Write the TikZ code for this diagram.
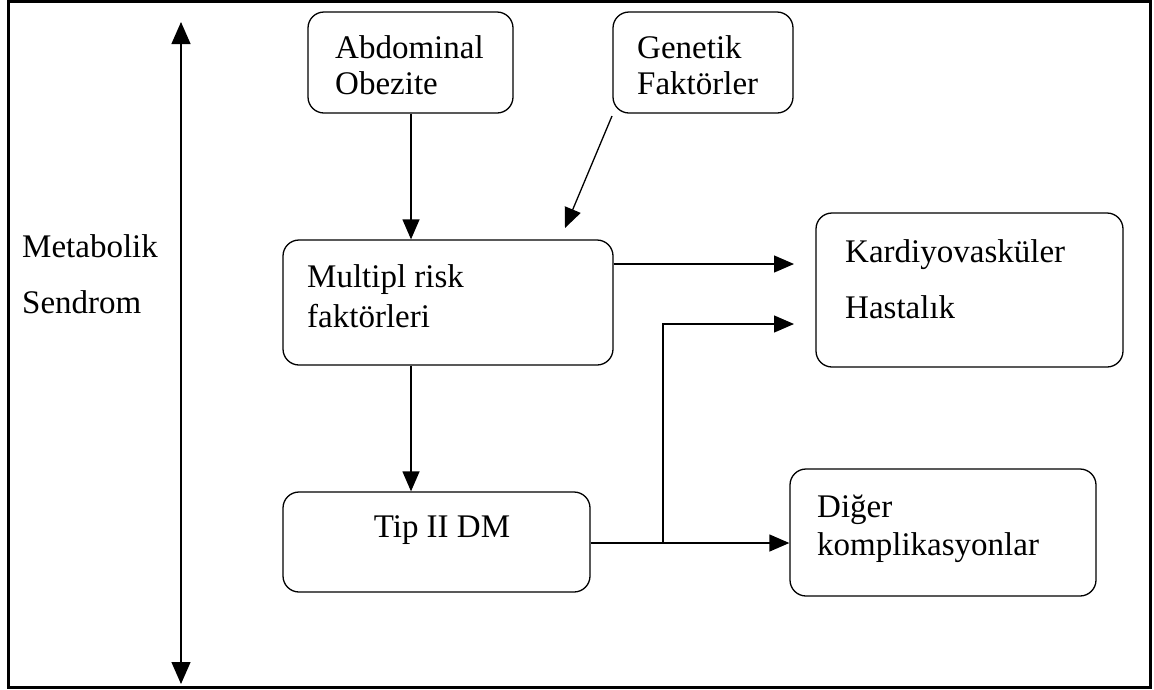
\documentclass[tikz,border=0pt]{standalone}
\usepackage{fontspec}
\setmainfont{Liberation Serif}
\usetikzlibrary{arrows.meta}
\begin{document}
\begin{tikzpicture}[x=1pt,y=-1pt,
  box/.style={draw, line width=1.3pt, rounded corners=16pt, inner sep=0pt},
  txt/.style={inner sep=0pt, anchor=base west, font=\fontsize{33}{38}\selectfont},
  arr/.style={line width=1.3pt, -{Triangle[length=20pt,width=17pt]}},
  darr/.style={line width=1.3pt, {Triangle[length=22pt,width=19pt]}-{Triangle[length=22pt,width=19pt]}}]
\useasboundingbox (0,0) rectangle (1154,689);
\draw[line width=3pt] (8,1.5) rectangle (1150,687);

% boxes
\node[box, minimum width=205pt, minimum height=101pt] (abd) at (410.5,62.5) {};
\node[box, minimum width=180pt, minimum height=101pt] (gen) at (703,62.5) {};
\node[box, minimum width=330pt, minimum height=125pt] (mul) at (448,302.5) {};
\node[box, minimum width=307pt, minimum height=100pt] (tip) at (436.5,542) {};
\node[box, minimum width=307pt, minimum height=154pt] (kar) at (969.5,290) {};
\node[box, minimum width=306pt, minimum height=127pt] (dig) at (943,532.5) {};

% texts
\node[txt] (t1) at (335,58) {Abdominal};
\node[txt] (t2) at (335,94) {Obezite};
\node[txt] (t3) at (637,58) {Genetik};
\node[txt] (t4) at (637,94) {Faktörler};
\node[txt] (t5) at (307,287) {Multipl risk};
\node[txt] (t6) at (307,327) {faktörleri};
\node[txt, anchor=base] (t7) at (442,537) {Tip II DM};
\node[txt] (t8) at (845,262) {Kardiyovasküler};
\node[txt] (t9) at (845,318) {Hastalık};
\node[txt] (t10) at (817,517) {Diğer};
\node[txt] (t11) at (817,555) {komplikasyonlar};
\node[txt] (t12) at (22,257) {Metabolik};
\node[txt] (t13) at (22,313) {Sendrom};

% coordinates
\coordinate (vtop) at (181,22);
\coordinate (vbot) at (181,684);
\coordinate (gs) at (612,116);
\coordinate (ge) at (565,228);
\coordinate (k1) at (794,264);
\coordinate (k2) at (794,324);
\coordinate (ax) at (411,0);
\coordinate (ly) at (0,543);
\coordinate (br) at (663,543);

% connectors
\draw[darr] (vtop) -- (vbot);
\draw[arr] (ax |- abd.south) -- (ax |- mul.north);
\draw[arr] (gs) -- (ge);
\draw[arr] (mul.east |- k1) -- (k1);
\draw[arr] (br) |- (k2);
\draw[arr] (ax |- mul.south) -- (ax |- tip.north);
\draw[arr] (tip.east |- ly) -- (dig.west |- ly);
\end{tikzpicture}
\end{document}
